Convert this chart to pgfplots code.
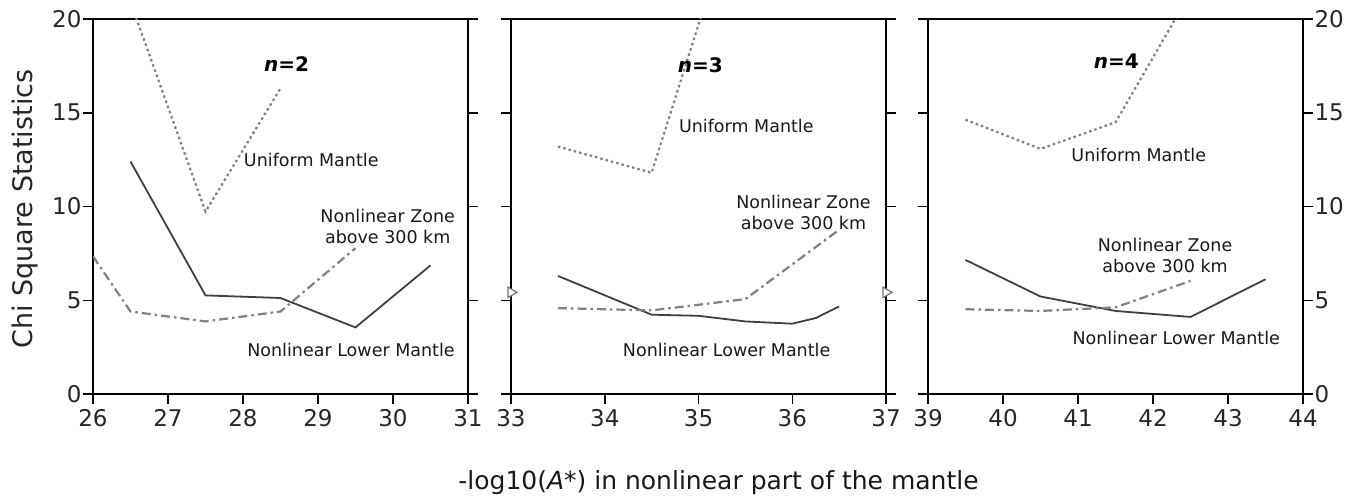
\documentclass[border=0pt]{standalone}
\usepackage{fontspec}
\setmainfont{DejaVu Sans}
\newfontfamily\gen{DejaVu Sans}
\usepackage{pgfplots}
\pgfplotsset{compat=1.18}
\begin{document}
\begin{tikzpicture}
\pgfplotsset{
 panel/.style={scale only axis, width=375pt, height=375pt, ymin=0, ymax=20,
   ytick={0,5,10,15,20}, tick align=outside, major tick length=10pt,
   xtick pos=lower, ytick pos=both,
   axis line style={line width=1.8pt},
   every tick/.style={black, line width=1.5pt},
   tick label style={font=\fontsize{23}{23}\selectfont, color=black!85},
   xticklabel shift=2pt, yticklabel shift=-2pt,
   /pgf/number format/assume math mode=true},
}
\tikzset{
 unif/.style={color=black!50, line width=2.2pt, dash pattern=on 2.5pt off 3pt},
 lower/.style={color=black!75, line width=1.8pt},
 zone/.style={color=black!50, line width=2.2pt, dash pattern=on 9pt off 4pt on 2.5pt off 4pt},
 ann/.style={font=\fontsize{17.5}{21}\selectfont, color=black!90, align=center},
 nlab/.style={font=\bfseries\fontsize{20}{24}\selectfont, color=black},
}
\path (-93pt,-105pt) rectangle (1272pt,394pt);
% Panel 1
\begin{axis}[panel, xmin=26, xmax=31, xtick={26,27,28,29,30,31}, yticklabel pos=left]
\addplot[unif] coordinates {(26.5,20.9) (27.5,9.73) (28.5,16.3)};
\addplot[lower] coordinates {(26.5,12.4) (27.5,5.26) (28.5,5.12) (29.5,3.55) (30.5,6.86)};
\addplot[zone] coordinates {(26,7.34) (26.5,4.4) (27.5,3.87) (28.5,4.4) (29.5,7.78)};
\node[nlab] at (axis cs:28.58,17.6) {\textit{n}=2};
\node[ann] at (axis cs:28.91,12.5) {Uniform Mantle};
\node[ann] at (axis cs:29.93,8.93) {Nonlinear Zone\\above 300 km};
\node[ann] at (axis cs:29.44,2.33) {Nonlinear Lower Mantle};
\end{axis}
% Panel 2
\begin{axis}[panel, at={(418pt,0pt)}, xmin=33, xmax=37, xtick={33,34,35,36,37}, yticklabels={}]
\addplot[unif] coordinates {(33.5,13.2) (34.5,11.8) (35.5,27.6)};
\addplot[lower] coordinates {(33.5,6.3) (34.5,4.23) (35,4.17) (35.5,3.87) (36,3.75) (36.25,4.05) (36.5,4.67)};
\addplot[zone] coordinates {(33.5,4.58) (34.5,4.46) (35.5,5.06) (36.5,8.76)};
\node[nlab] at (axis cs:35.02,17.55) {\textit{n}=3};
\node[ann] at (axis cs:35.51,14.3) {Uniform Mantle};
\node[ann] at (axis cs:36.12,9.7) {Nonlinear Zone\\above 300 km};
\node[ann] at (axis cs:35.3,2.33) {Nonlinear Lower Mantle};
\end{axis}
\begin{axis}[at={(418pt,0pt)}, scale only axis, width=375pt, height=375pt,
  xmin=33, xmax=37, ymin=0, ymax=20, hide axis, clip=false]
\addplot[only marks, mark=triangle*, mark size=6pt,
  mark options={rotate=-90, fill=white, draw=black!55, line width=1.2pt}]
  coordinates {(33,5.42) (37,5.42)};
\end{axis}
% Panel 3
\begin{axis}[panel, at={(835pt,0pt)}, xmin=39, xmax=44, xtick={39,40,41,42,43,44}, yticklabel pos=right]
\addplot[unif] coordinates {(39.5,14.63) (40.5,13.07) (41.5,14.49) (42.5,21.4)};
\addplot[lower] coordinates {(39.5,7.15) (40.5,5.2) (41.5,4.43) (42.5,4.11) (43.5,6.12)};
\addplot[zone] coordinates {(39.5,4.52) (40.5,4.43) (41.5,4.62) (42.5,6.03)};
\node[nlab] at (axis cs:41.51,17.77) {\textit{n}=4};
\node[ann] at (axis cs:41.81,12.73) {Uniform Mantle};
\node[ann] at (axis cs:42.16,7.41) {Nonlinear Zone\\above 300 km};
\node[ann] at (axis cs:42.31,3.0) {Nonlinear Lower Mantle};
\end{axis}
\node[rotate=90, anchor=base, font=\fontsize{27}{30}\selectfont, color=black!85] at (-60pt,185pt) {Chi Square Statistics};
\node[anchor=base, font=\fontsize{25}{28}\selectfont, color=black!90] at (625.5pt,-95pt) {-log10(\textit{A}*) in nonlinear part of the mantle};
\end{tikzpicture}
\end{document}
